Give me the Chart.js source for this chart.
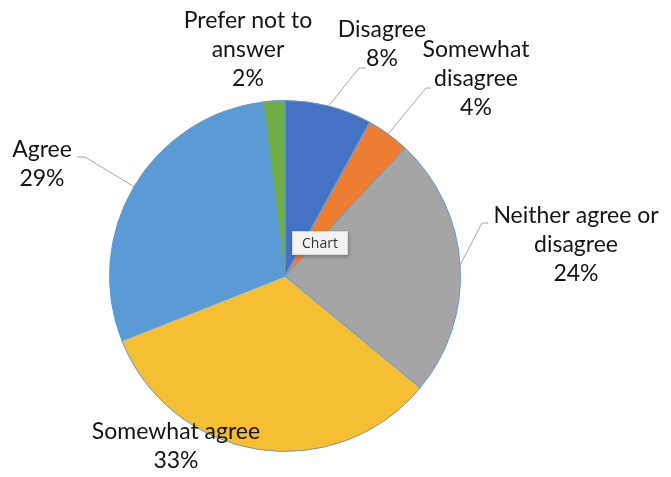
<!DOCTYPE html>
<html>
<head>
<meta charset="utf-8">
<script src="https://cdn.jsdelivr.net/npm/chart.js@4.4.1/dist/chart.umd.min.js"></script>
<style>
  html, body { margin: 0; padding: 0; background: #fff; }
  #wrap { position: relative; width: 671px; height: 477px; }
  #tag {
    position: absolute; left: 292px; top: 231px; width: 56px; height: 24px;
    background: #f2f2f2; border: 1px solid #d9d9d9; box-sizing: border-box;
    box-shadow: 1px 2px 4px rgba(0,0,0,0.25);
    font: 14px "Open Sans", sans-serif; color: #333; text-align: center; line-height: 22px;
  }
</style>
</head>
<body>
<div id="wrap">
  <canvas id="pie" width="671" height="477"></canvas>
  <div id="tag">Chart</div>
</div>
<script>
  // Data
  const categories = ["Disagree", "Somewhat disagree", "Neither agree or disagree", "Somewhat agree", "Agree", "Prefer not to answer"];
  const values = [8, 4, 24, 33, 29, 2];
  const colors = ["#4472C4", "#ED7D31", "#A5A5A5", "#F6BF33", "#5B9BD5", "#70AD47"];

  // Label text lines and where each label sits (text center, first line)
  const labelLines = [
    ["Disagree"],
    ["Somewhat", "disagree"],
    ["Neither agree or", "disagree"],
    ["Somewhat agree"],
    ["Agree"],
    ["Prefer not to", "answer"]
  ];
  const labelPos = [
    { x: 382, y: 38, elbow: [[366, 68], [359, 68]] },
    { x: 476, y: 58, elbow: [[431, 88], [426, 88]] },
    { x: 576, y: 224, elbow: [[488, 223], [482, 223]] },
    { x: 176, y: 440, elbow: null },
    { x: 42, y: 158, elbow: [[77, 157], [85, 157]] },
    { x: 248, y: 29, elbow: null }
  ];

  const lineH = 29;
  const font = '23px Lato, "Open Sans", sans-serif';

  const labelPlugin = {
    id: "outerLabels",
    afterDatasetsDraw(chart) {
      const ctx = chart.ctx;
      const arcs = chart.getDatasetMeta(0).data;
      const total = values.reduce((a, b) => a + b, 0);
      ctx.save();
      arcs.forEach((arc, i) => {
        const p = labelPos[i];
        // leader line to the middle of the slice's outer edge
        if (p.elbow) {
          const mid = (arc.startAngle + arc.endAngle) / 2;
          const ex = arc.x + Math.cos(mid) * arc.outerRadius;
          const ey = arc.y + Math.sin(mid) * arc.outerRadius;
          ctx.strokeStyle = "#a6a6a6";
          ctx.lineWidth = 1;
          ctx.beginPath();
          ctx.moveTo(p.elbow[0][0], p.elbow[0][1]);
          ctx.lineTo(p.elbow[1][0], p.elbow[1][1]);
          ctx.lineTo(ex, ey);
          ctx.stroke();
        }
        const lines = labelLines[i].concat([Math.round(values[i] / total * 100) + "%"]);
        ctx.fillStyle = "#141414";
        ctx.font = font;
        ctx.textAlign = "center";
        ctx.textBaseline = "middle";
        lines.forEach((t, j) => ctx.fillText(t, p.x, p.y + j * lineH - 8));
      });
      ctx.restore();
    }
  };

  new Chart(document.getElementById("pie"), {
    type: "pie",
    data: {
      labels: categories,
      datasets: [{
        data: values,
        backgroundColor: colors,
        borderColor: "#5B9BD5",
        borderWidth: 1
      }]
    },
    options: {
      responsive: false,
      animation: false,
      layout: { padding: { top: 100, bottom: 25, left: 109, right: 210 } },
      plugins: {
        legend: { display: false },
        tooltip: { enabled: false }
      }
    },
    plugins: [labelPlugin]
  });
</script>
</body>
</html>
